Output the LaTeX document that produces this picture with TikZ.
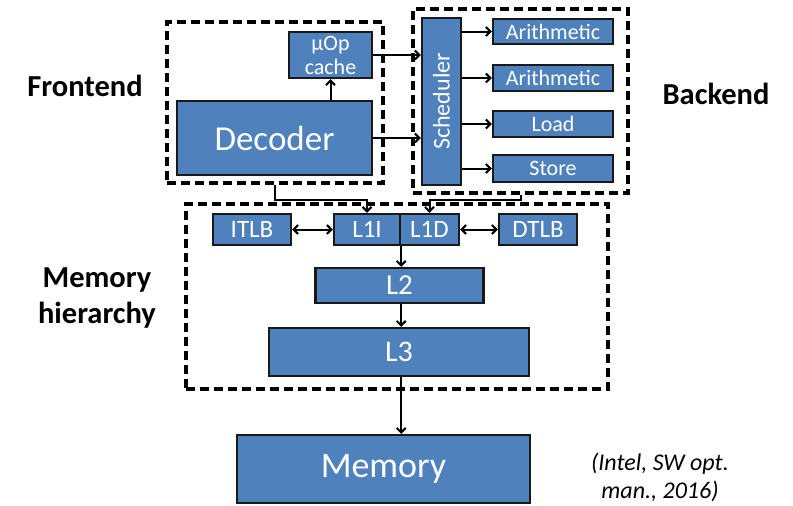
\documentclass[tikz,border=0pt]{standalone}
\usepackage{fontspec}
\setmainfont{Carlito}
\usetikzlibrary{arrows.meta}
\definecolor{boxblue}{HTML}{4F81BD}
\tikzset{
  blk/.style={draw=black!90, line width=2.4pt, fill=boxblue, text=white, inner sep=0pt, align=center},
  dbox/.style={draw=black, line width=3.2pt, dash pattern=on 9pt off 5pt, inner sep=0pt},
  arr/.style={line width=2pt, -{Straight Barb[length=4.5pt,width=9pt,line width=2pt]}},
  darr/.style={line width=2pt, {Straight Barb[length=4.5pt,width=9pt,line width=2pt]}-{Straight Barb[length=4.5pt,width=9pt,line width=2pt]}},
  lbl/.style={font=\bfseries\fontsize{30.5}{36}\selectfont, align=center, inner sep=0pt},
}
\newcommand{\fsz}[2]{\fontsize{#1}{#2}\selectfont}
\begin{document}
\begin{tikzpicture}[x=1pt,y=-1pt]
\useasboundingbox (0,0) rectangle (793,506);
% dashed group boxes
\node[dbox, minimum width=216, minimum height=161] (fe) at (275,102.5) {};
\node[dbox, minimum width=215, minimum height=184] (be) at (520.5,101) {};
\node[dbox, minimum width=422, minimum height=185] (mh) at (397,296.5) {};
% frontend
\node[blk, minimum width=83, minimum height=46, font=\fsz{22}{24}] (uop) at (330.5,55) {µOp\\cache};
\node[blk, minimum width=195, minimum height=74, font=\fsz{35}{40}] (dec) at (274.5,138) {Decoder};
% backend
\node[blk, minimum width=39, minimum height=167] (sch) at (441.5,101.5) {};
\node[font=\fsz{24}{26}, text=white, rotate=90, inner sep=0pt] (schl) at (sch.center) {Scheduler};
\node[blk, minimum width=120, minimum height=25, font=\fsz{22}{24}] (a1) at (553,31.5) {Arithmetic};
\node[blk, minimum width=120, minimum height=26, font=\fsz{22}{24}] (a2) at (553,78) {Arithmetic};
\node[blk, minimum width=120, minimum height=26, font=\fsz{22}{24}] (ld) at (553,124) {Load};
\node[blk, minimum width=120, minimum height=27, font=\fsz{22}{24}] (st) at (553,168.5) {Store};
% memory hierarchy
\node[blk, minimum width=78, minimum height=31, font=\fsz{25}{28}] (itlb) at (252,229.5) {ITLB};
\node[blk, minimum width=66, minimum height=31, font=\fsz{25}{28}] (l1i) at (367,229.5) {L1I};
\node[blk, minimum width=59, minimum height=31, font=\fsz{25}{28}] (l1d) at (429.5,229.5) {L1D};
\node[blk, minimum width=78, minimum height=31, font=\fsz{25}{28}] (dtlb) at (538,229.5) {DTLB};
\node[blk, minimum width=168, minimum height=35, font=\fsz{29}{32}] (l2) at (399.5,285.5) {L2};
\node[blk, minimum width=260, minimum height=48, font=\fsz{30}{34}] (l3) at (399,352) {L3};
\node[blk, minimum width=293, minimum height=68, font=\fsz{36}{40}] (mem) at (383.5,469) {Memory};
% labels
\node[lbl] (lfe) at (85,86) {Frontend};
\node[lbl] (lbe) at (716,94) {Backend};
\node[lbl] (lmh) at (97,298) {Memory\\hierarchy};
\node[font=\itshape\fsz{24}{28}, align=center, inner sep=0pt] (cite) at (660,477) {(Intel, SW opt.\\man., 2016)};
% connectors
\draw[arr] (dec.north -| uop.south) -- (uop.south);
\draw[arr] (uop.east) -- (uop.east -| sch.west);
\draw[arr] (dec.east) -- (dec.east -| sch.west);
\draw[arr] (sch.east |- a1.west) -- (a1.west);
\draw[arr] (sch.east |- a2.west) -- (a2.west);
\draw[arr] (sch.east |- ld.west) -- (ld.west);
\draw[arr] (sch.east |- st.west) -- (st.west);
\draw[arr] (fe.south) -- ++(0,15) -| (l1i.north);
\draw[arr] (be.south) -- ++(0,5) -| (l1d.north);
\draw[darr] (itlb.east) -- (l1i.west);
\draw[darr] (l1d.east) -- (dtlb.west);
\draw[arr] (l1i.south east) -- (l1i.south east |- l2.north);
\draw[arr] (l2.south -| l1i.south east) -- (l1i.south east |- l3.north);
\draw[arr] (l3.south -| l1i.south east) -- (l1i.south east |- mem.north);
\end{tikzpicture}
\end{document}
